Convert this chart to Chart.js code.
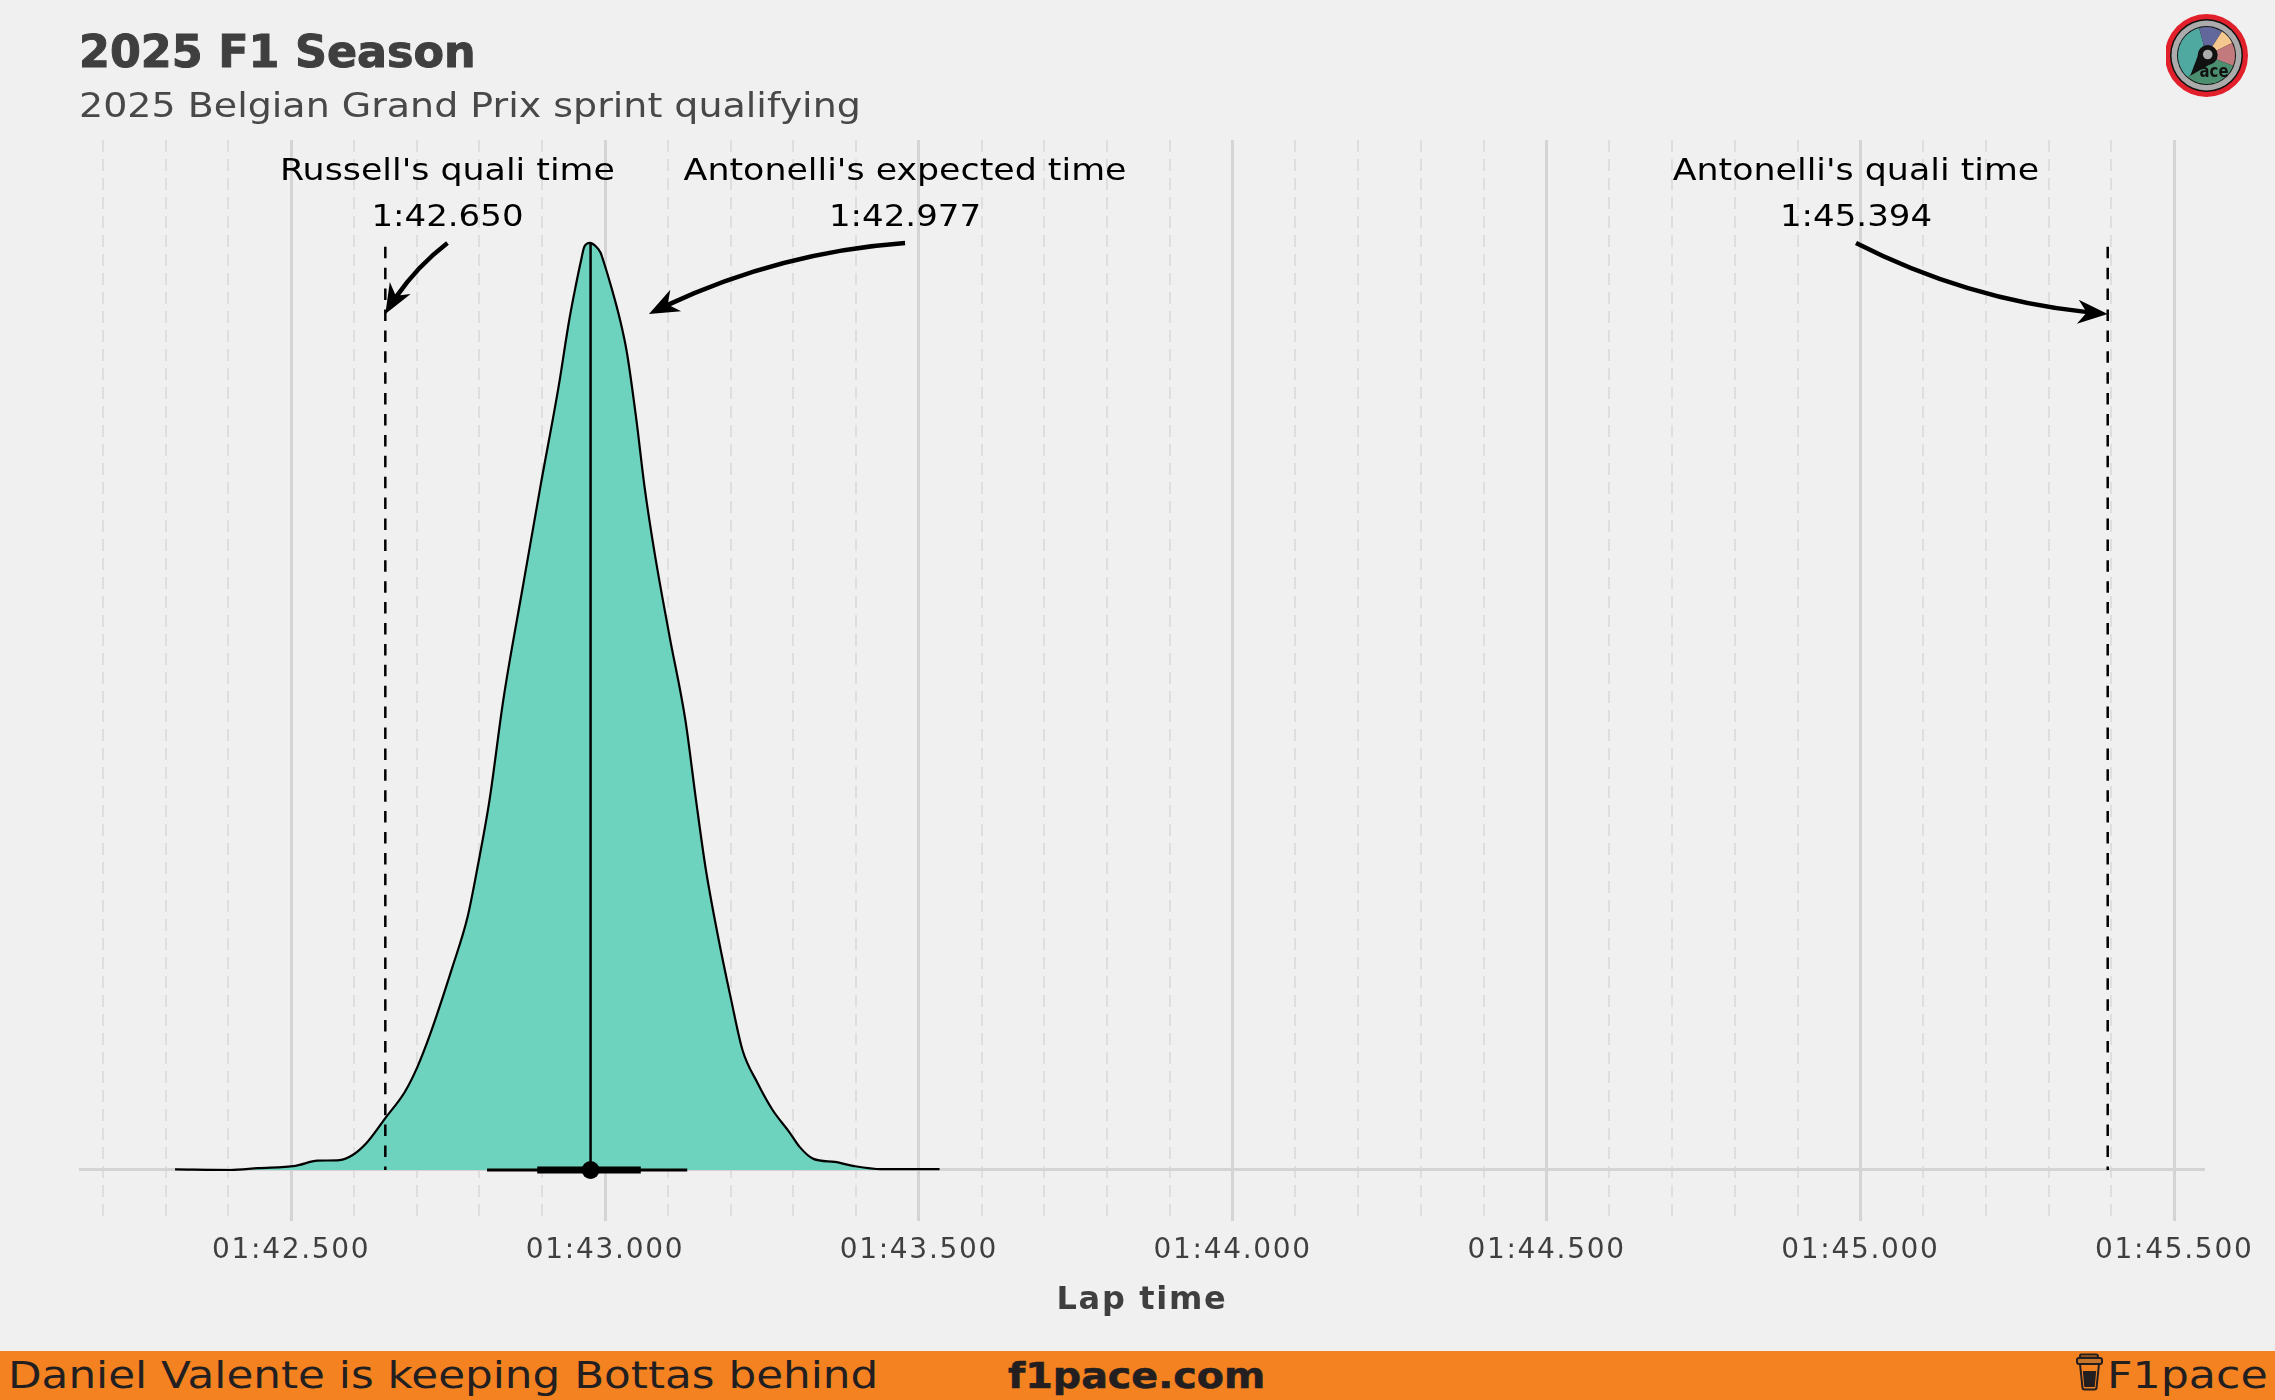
<!DOCTYPE html>
<html>
<head>
<meta charset="utf-8">
<script src="https://cdn.jsdelivr.net/npm/chart.js@4/dist/chart.umd.min.js"></script>
<style>
html,body{margin:0;padding:0;background:#f0f0f0;width:2275px;height:1400px;overflow:hidden}
#wrap{position:relative;width:2275px;height:1400px}
canvas{position:absolute;left:0;top:0}
.t{position:absolute;white-space:nowrap;font-family:"DejaVu Sans",sans-serif;transform-origin:0 50%}
#title{left:79px;top:26px;font-size:44px;font-weight:700;color:#3f3f3f;transform:scaleX(1.01);-webkit-text-stroke:1px #3f3f3f}
#subtitle{left:79px;top:85px;font-size:34px;color:#484848;line-height:40px;transform:scaleX(1.117)}
#banner{position:absolute;left:0;top:1351px;width:2275px;height:49px;background:#f58220}
.b{color:#231f20;top:1351px;line-height:49px}
#b1{left:8px;font-size:38px;transform:scaleX(1.149)}
#b2{left:1008px;font-size:36px;font-weight:700;transform:scaleX(1.10);-webkit-text-stroke:.6px #231f20}
#b3{left:2107px;font-size:38px;transform:scaleX(1.167)}
</style>
</head>
<body>
<div id="wrap">
<canvas id="c" width="2275" height="1400"></canvas>
<div class="t" id="title">2025 F1 Season</div>
<div class="t" id="subtitle">2025 Belgian Grand Prix sprint qualifying</div>
<svg id="logo" style="position:absolute;left:2166px;top:14px" width="83" height="83" viewBox="0 0 83 83"></svg>
<div id="banner"></div>
<div class="t b" id="b1">Daniel Valente is keeping Bottas behind</div>
<div class="t b" id="b2">f1pace.com</div>
<div class="t b" id="b3">F1pace</div>
<svg style="position:absolute;left:2076px;top:1352px" width="27" height="39" viewBox="0 0 27 39">
<path d="M5 2.500h15q2 0 2 2v1H4v-1q0-2 1-2z" fill="none" stroke="#231f20" stroke-width="2"/>
<rect x="1" y="6" width="25" height="6" rx="2" fill="#c9752a" stroke="#231f20" stroke-width="2"/>
<path d="M4 12l2.500 24q.2 1.500 2 1.500h10q1.800 0 2-1.500l2.500-24" fill="none" stroke="#231f20" stroke-width="2"/>
<path d="M6.800 19h13.400l-1.500 16H8.300z" fill="#231f20"/>
</svg>
</div>
<script>
// Lap time axis (seconds) and density curve
const lapTimes = [102.315,102.404,102.447,102.507,102.542,102.577,102.598,102.620,102.650,102.681,102.701,102.721,102.757,102.781,102.797,102.816,102.838,102.869,102.897,102.926,102.943,102.953,102.962,102.967,102.976,102.986,102.993,102.997,103.010,103.024,103.035,103.050,103.063,103.079,103.103,103.128,103.145,103.160,103.179,103.201,103.219,103.243,103.267,103.293,103.310,103.332,103.366,103.397,103.440,103.500,103.533];
const densities = [0.002,0,0.006,0.014,0.031,0.033,0.05,0.09,0.173,0.26,0.343,0.45,0.677,0.843,1.01,1.233,1.567,1.943,2.277,2.61,2.833,2.943,3.033,3.077,3.09,3.077,3.057,3.033,2.943,2.833,2.723,2.5,2.277,2.057,1.777,1.5,1.233,1.01,0.79,0.567,0.4,0.29,0.2,0.128,0.077,0.037,0.027,0.013,0.003,0.003,0.003];
const majorTicks = [102.5,103,103.5,104,104.5,105,105.5];
const tickLabels = ['01:42.500','01:43.000','01:43.500','01:44.000','01:44.500','01:45.000','01:45.500'];
const russellTime = 102.650;
const expectedTime = 102.977;
const antonelliTime = 105.394;
const whiskerThin = [102.812,103.131];
const whiskerThick = [102.892,103.057];
const annotationNames = ["Russell's quali time","Antonelli's expected time","Antonelli's quali time"];
const annotationTimes = ['1:42.650','1:42.977','1:45.394'];
const annotationTextX = [102.749,103.478,104.993];
const annotationTipX = [102.650,103.070,105.394];

const peak = 3.09;
const arrowFromY = 3.09, arrowTipY = 2.853, line1Y = 3.325, line2Y = 3.173;
const FONT = '"DejaVu Sans", sans-serif';

const annotate = {
  id:'annotate',
  beforeDraw(chart){ chart.ctx.letterSpacing='1.7px'; },
  afterDatasetsDraw(chart){
    const {ctx,scales:{x,y}} = chart;
    ctx.save();
    ctx.fillStyle='#000'; ctx.strokeStyle='#000';
    ctx.textAlign='center'; ctx.textBaseline='middle';
    ctx.font='30px '+FONT; ctx.letterSpacing='0px';
    const label=(s,cx,cy,k)=>{ctx.save();ctx.translate(cx,cy);ctx.scale(k,1);ctx.fillText(s,0,0);ctx.restore();};
    annotationNames.forEach((name,i)=>{
      const cx=x.getPixelForValue(annotationTextX[i]);
      label(name,cx,y.getPixelForValue(line1Y),1.16);
      label(annotationTimes[i],cx,y.getPixelForValue(line2Y),1.134);
      const sx=cx, sy=y.getPixelForValue(arrowFromY);
      const tx=x.getPixelForValue(annotationTipX[i]), ty=y.getPixelForValue(arrowTipY);
      const rad=-0.1;
      const mx=(sx+tx)/2, my=(sy+ty)/2;
      const dx=tx-sx, dy=ty-sy;
      const qx=mx+rad*dy, qy=my-rad*dx;
      const len=Math.hypot(dx,dy), k=1-Math.min(0.4,20/len);
      const ax=sx+(qx-sx)*k, ay=sy+(qy-sy)*k;
      const bx=qx+(tx-qx)*k, by=qy+(ty-qy)*k;
      const ex=ax+(bx-ax)*k, ey=ay+(by-ay)*k;
      ctx.lineWidth=4.5; ctx.lineCap='butt';
      ctx.beginPath(); ctx.moveTo(sx,sy); ctx.quadraticCurveTo(ax,ay,ex,ey); ctx.stroke();
      const n=Math.hypot(qx-tx,qy-ty), ux=(qx-tx)/n, uy=(qy-ty)/n, px=-uy, py=ux;
      ctx.beginPath();
      ctx.moveTo(tx,ty);
      ctx.lineTo(tx+ux*30+px*12,ty+uy*30+py*12);
      ctx.lineTo(tx+ux*21,ty+uy*21);
      ctx.lineTo(tx+ux*30-px*12,ty+uy*30-py*12);
      ctx.closePath(); ctx.fill();
    });
    ctx.restore();
  }
};

const vline = (t,top,extra) => Object.assign({type:'line',data:[{x:t,y:top},{x:t,y:0}],borderColor:'#000',pointRadius:0,fill:false},extra);
const isMajor = v => majorTicks.some(m=>Math.abs(m-v)<1e-6);

new Chart(document.getElementById('c'),{
  type:'line',
  data:{datasets:[
    {data:[{x:expectedTime,y:0}],type:'scatter',pointRadius:9,pointBackgroundColor:'#000',pointBorderWidth:0,order:0,clip:false},
    {type:'line',data:whiskerThick.map(t=>({x:t,y:0})),borderColor:'#000',borderWidth:7,pointRadius:0,order:1},
    {type:'line',data:whiskerThin.map(t=>({x:t,y:0})),borderColor:'#000',borderWidth:3,pointRadius:0,order:2},
    vline(expectedTime,peak,{borderWidth:2.5,order:3}),
    vline(russellTime,3.077,{borderWidth:2.5,borderDash:[11.5,9.4],order:4}),
    vline(antonelliTime,3.077,{borderWidth:2.5,borderDash:[11.5,9.4],order:5}),
    {type:'line',data:lapTimes.map((t,i)=>({x:t,y:densities[i]})),borderColor:'#000',borderWidth:2.2,backgroundColor:'#6ed3be',fill:'origin',cubicInterpolationMode:'monotone',pointRadius:0,order:6}
  ]},
  options:{
    responsive:false,animation:false,
    layout:{padding:{left:79,right:70,top:140,bottom:49}},
    plugins:{legend:{display:false},title:{display:false},tooltip:{enabled:false}},
    scales:{
      x:{
        type:'linear',min:102.162,max:105.549,
        afterFit(s){s.height=130;},
        border:{display:false,dash:c=>isMajor(c.tick.value)?[]:[12,7]},
        grid:{
          drawTicks:false,
          color:c=>isMajor(c.tick.value)?'#d4d4d4':'#dedede',
          lineWidth:c=>isMajor(c.tick.value)?3:2
        },
        ticks:{
          stepSize:0.1,includeBounds:false,autoSkip:false,maxRotation:0,minRotation:0,
          padding:13,color:'#3f3f3f',font:{family:FONT,size:28},
          callback:v=>{const i=majorTicks.findIndex(m=>Math.abs(m-v)<1e-6);return i<0?'':tickLabels[i];}
        },
        title:{display:true,text:'Lap time',color:'#3f3f3f',font:{family:FONT,size:32,weight:'bold'},padding:{top:0,bottom:31}}
      },
      y:{
        type:'linear',min:-0.17,max:3.433,
        afterBuildTicks(s){s.ticks=[{value:0}];},
        afterFit(s){s.width=0;},
        border:{display:false},
        grid:{drawTicks:false,color:'#d4d4d4',lineWidth:3},
        ticks:{display:false}
      }
    }
  },
  plugins:[annotate]
});

// logo
(function(){
  const svg=document.getElementById('logo'), CX=40.5, CY=41.5, R=28.5;
  const pt=a=>{const r=a*Math.PI/180;return [CX+R*Math.sin(r),CY-R*Math.cos(r)];};
  const sec=(a,b,col)=>{const p=pt(a),q=pt(b);return `<path d="M${CX} ${CY}L${p[0]} ${p[1]}A${R} ${R} 0 ${b-a>180?1:0} 1 ${q[0]} ${q[1]}Z" fill="${col}"/>`;};
  const circ=(r,f)=>`<circle cx="${CX}" cy="${CY}" r="${r}" fill="${f}"/>`;
  svg.innerHTML=circ(41.5,'#e2202c')+circ(36.5,'#111')+circ(35,'#ababab')+circ(29.5,'#111')
   +sec(220,345,'#4fa9a0')+sec(345,393,'#62689b')+sec(33,64,'#f4c88f')+sec(64,111,'#c27a7c')+sec(111,220,'#4b8e70')
   +`<path d="M24.300 61.700L33.300 37.700L48.300 47.700Z" fill="#111"/><circle cx="41.700" cy="41" r="10" fill="#111"/><circle cx="41.700" cy="40.500" r="4.800" fill="#ababab"/>`
   +`<text x="33.500" y="62.700" textLength="29" lengthAdjust="spacingAndGlyphs" font-family="DejaVu Sans" font-weight="700" font-size="17" fill="#111">ace</text>`;
})();
</script>
</body>
</html>
